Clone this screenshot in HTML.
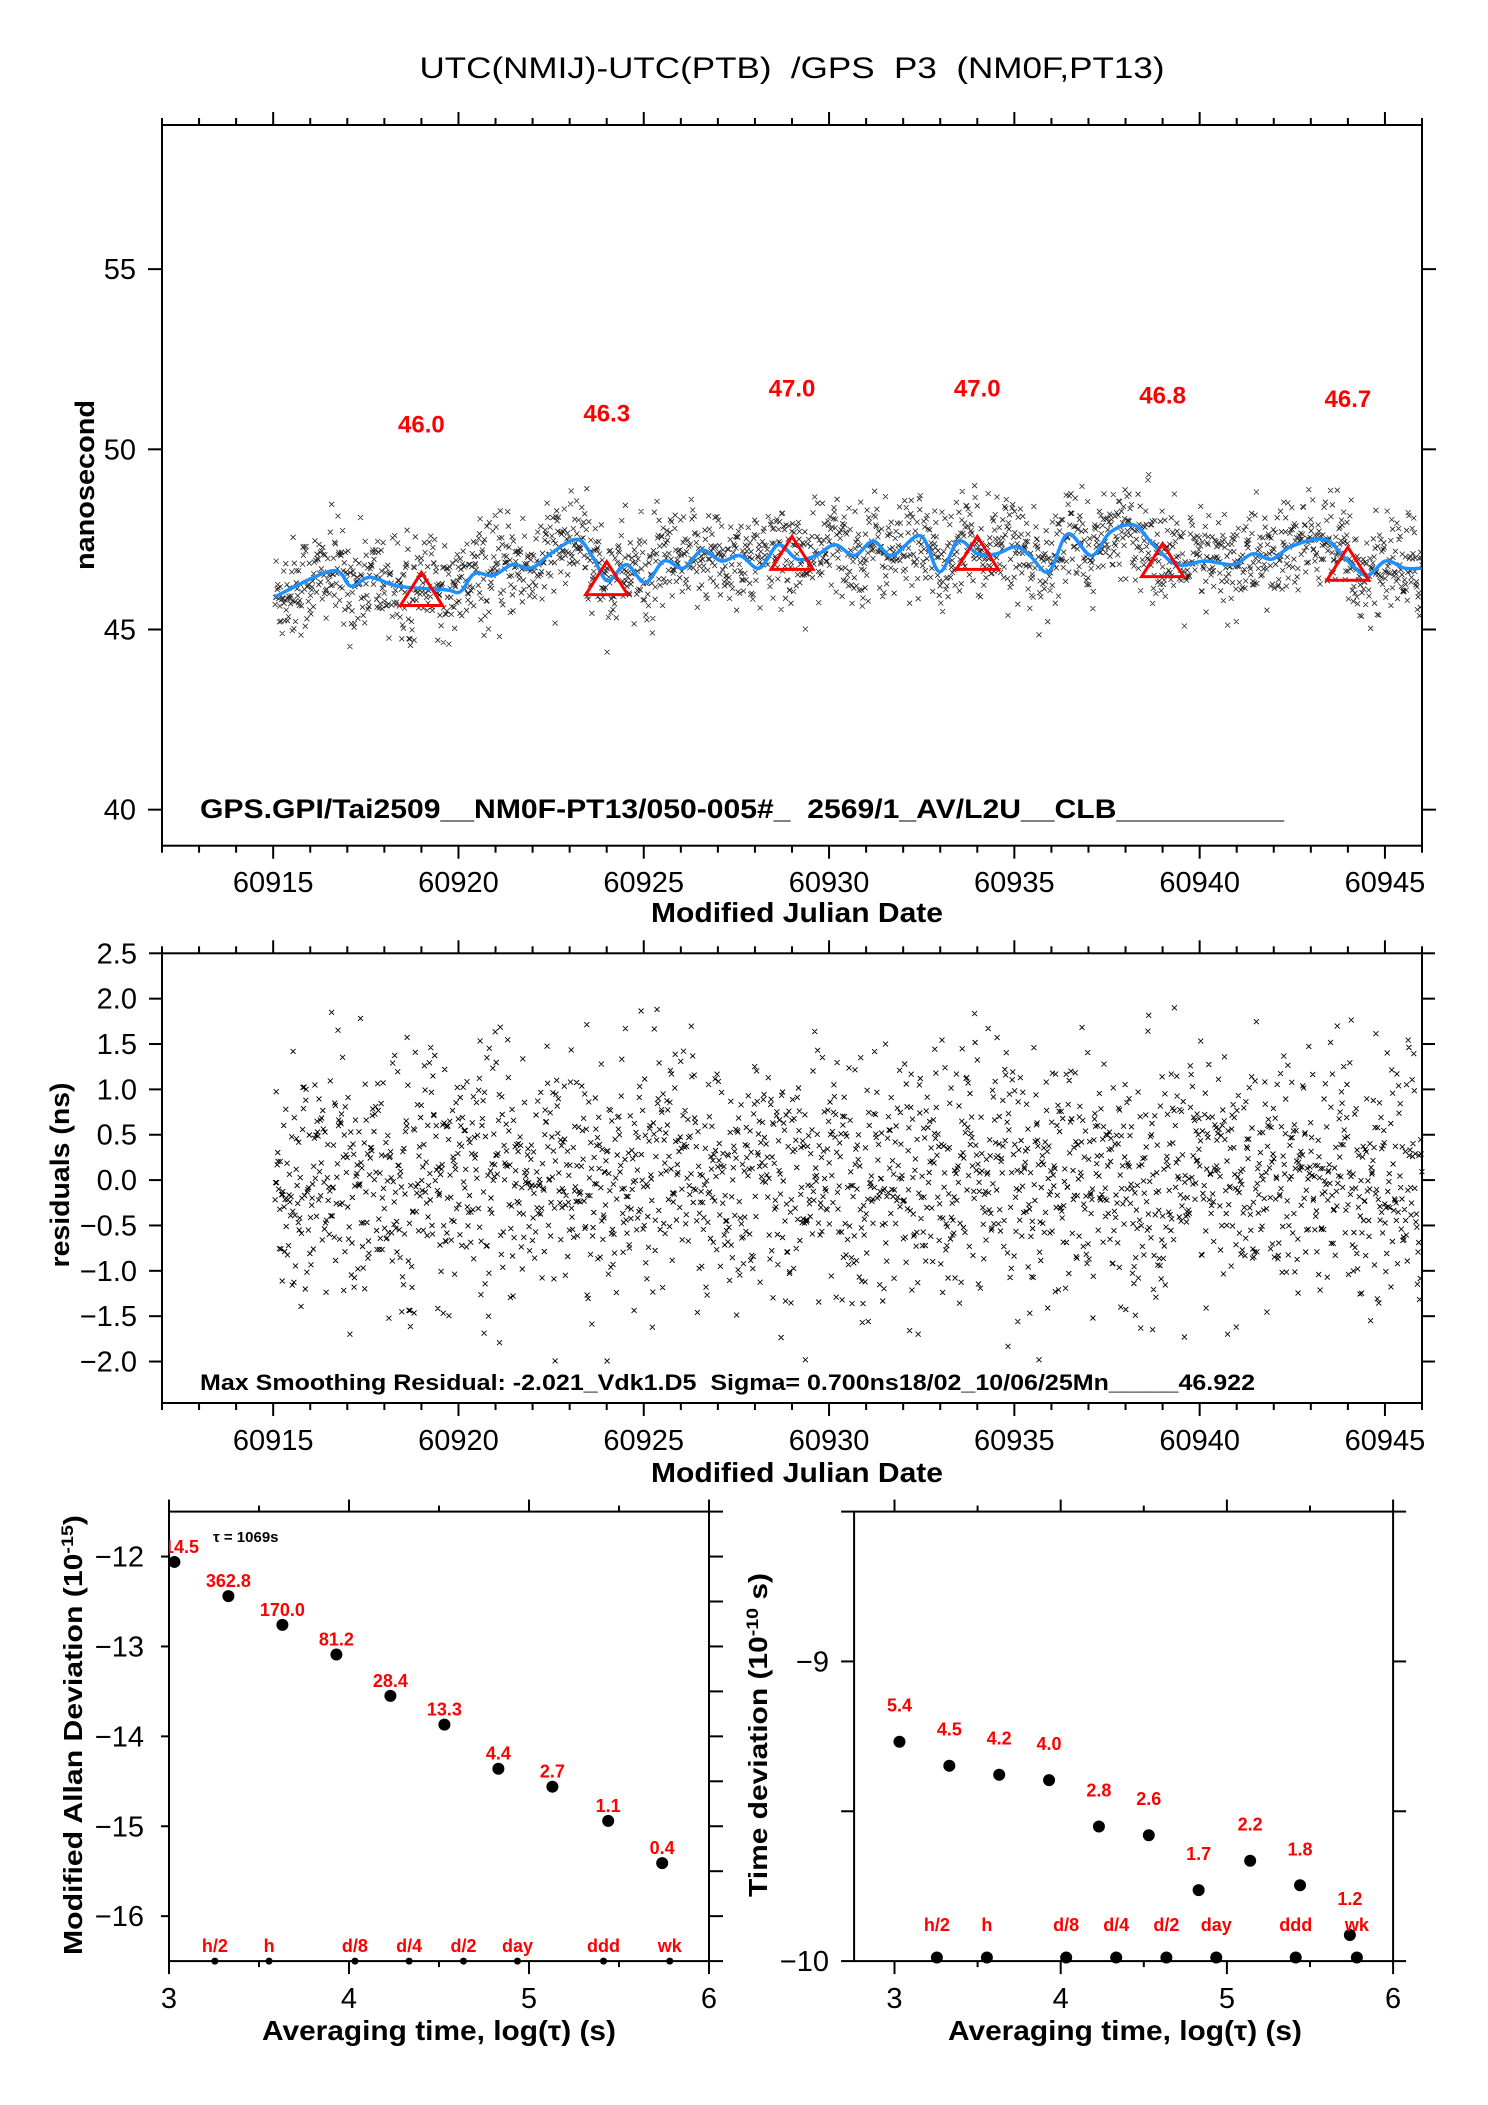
<!DOCTYPE html>
<html><head><meta charset="utf-8"><title>UTC(NMIJ)-UTC(PTB) GPS P3</title>
<style>html,body{margin:0;padding:0;background:#fff}svg{display:block;font-family:"Liberation Sans",Arial,sans-serif}svg text{white-space:pre}</style>
</head><body>
<svg id="fig" xmlns="http://www.w3.org/2000/svg" width="1488" height="2105" viewBox="0 0 1488 2105">
<rect x="0" y="0" width="1488" height="2105" fill="#fff"/>
<defs>
<clipPath id="c3"><rect x="169" y="1511.6" width="540" height="449.5"/></clipPath>
<clipPath id="c1"><rect x="162" y="125" width="1260" height="720.7"/></clipPath>
</defs>
</svg>
<script>
// ---------- data ----------
const curveMJD=[60915.05,60916.59,60917.10,60917.61,60918.38,60919.66,60920.05,60920.43,60920.94,60921.46,60921.97,60922.48,60923.20,60923.63,60924.02,60924.53,60925.04,60925.55,60926.07,60926.58,60927.09,60927.60,60928.12,60928.63,60929.14,60929.65,60930.16,60930.68,60931.19,60931.70,60932.47,60932.98,60933.49,60934.01,60934.52,60935.03,60935.42,60935.93,60936.44,60937.08,60937.59,60938.23,60938.75,60939.39,60940.15,60940.92,60941.43,60941.95,60942.46,60943.36,60944.00,60944.51,60945.02,60945.53,60945.99];
const curveNs=[45.91,46.63,46.2,46.45,46.2,46.1,46.05,46.55,46.5,46.8,46.7,47.1,47.5,47.0,46.35,46.8,46.3,46.9,46.7,47.2,46.9,47.05,46.7,47.35,46.95,47.05,47.35,47.05,47.45,47.05,47.6,46.6,47.45,47.1,47.1,47.3,47.05,46.6,47.65,47.05,47.7,47.9,47.35,46.8,46.9,46.8,47.1,46.95,47.3,47.5,46.9,46.5,46.9,46.7,46.7];
const triMJD=[60919,60924,60929,60934,60939,60944];
const triVal=[46.0,46.3,47.0,47.0,46.8,46.7];
const adevX=[3.03,3.33,3.63,3.93,4.23,4.53,4.83,5.13,5.44,5.74];
const adevY=[-12.06,-12.44,-12.76,-13.09,-13.55,-13.87,-14.36,-14.56,-14.94,-15.41];
const adevLbl=["14.5","362.8","170.0","81.2","28.4","13.3","4.4","2.7","1.1","0.4"];
const tdevX=[3.03,3.33,3.63,3.93,4.23,4.53,4.83,5.14,5.44,5.74];
const tdevY=[-9.268,-9.348,-9.378,-9.396,-9.551,-9.580,-9.763,-9.665,-9.747,-9.913];
const tdevLbl=["5.4","4.5","4.2","4.0","2.8","2.6","1.7","2.2","1.8","1.2"];
const markX=[3.255,3.556,4.033,4.334,4.636,4.936,5.414,5.782];
const markLbl=["h/2","h","d/8","d/4","d/2","day","ddd","wk"];
const mjdTicks=[60915,60920,60925,60930,60935,60940,60945];
const nsTicks=[40,45,50,55];
const resTicks=[2.5,2.0,1.5,1.0,0.5,0.0,-0.5,-1.0,-1.5,-2.0];
const logTicks=[3,4,5,6];
const adevTicks=[-12,-13,-14,-15,-16];
const tdevTicks=[-9,-10];

// ---------- helpers ----------
const NS="http://www.w3.org/2000/svg";
const svg=document.getElementById('fig');
function mk(tag,attrs,name,parent){
  const el=document.createElementNS(NS,tag);
  for(const k in attrs) el.setAttribute(k,attrs[k]);
  
  
  (parent||svg).appendChild(el);
  return el;
}
function line(x1,y1,x2,y2,name,w){return mk('line',{x1,y1,x2,y2,stroke:'#000','stroke-width':w||2},name);}
function txt(x,y,s,name,o){
  o=o||{};
  const a={x,y,'font-size':o.size||29,'text-anchor':o.anchor||'middle',fill:o.fill||'#000'};
  if(o.bold) a['font-weight']='bold';
  if(o.len){a.textLength=o.len;a.lengthAdjust='spacingAndGlyphs';}
  if(o.rot) a.transform='rotate(-90 '+x+' '+y+')';
  if(o.clip) a['clip-path']=o.clip;
  const t=mk('text',a,name);t.textContent=s;return t;
}
function scale(d0,d1,r0,r1){return v=>r0+(v-d0)/(d1-d0)*(r1-r0);}

// ---------- title ----------
txt(792,78,"UTC(NMIJ)-UTC(PTB)  /GPS  P3  (NM0F,PT13)","chart-title",{size:30,len:745});

// ---------- panel 1 ----------
const P1={x0:162,x1:1422,y0:125,y1:845.7};
const x1s=scale(60912,60946,P1.x0,P1.x1), y1s=scale(39,59,P1.y1,P1.y0);
mk('rect',{x:P1.x0,y:P1.y0,width:P1.x1-P1.x0,height:P1.y1-P1.y0,fill:'none',stroke:'#000','stroke-width':2},'top-plot-frame');
for(let d=60912;d<=60946;d++){
  const X=x1s(d), maj=(d%5===0);
  line(X,P1.y0,X,P1.y0-(maj?13:7),'top-x-tick');
  line(X,P1.y1,X,P1.y1+(maj?13:7),'bottom-x-tick');
}
mjdTicks.forEach(v=>txt(x1s(v),892,String(v),'x-tick-label'));
nsTicks.forEach(v=>{const Y=y1s(v);line(P1.x0-14,Y,P1.x0,Y,'y-tick');line(P1.x1,Y,P1.x1+14,Y,'y-tick-right');txt(136,Y+10,String(v),'y-tick-label',{anchor:'end'});});
txt(797,922,"Modified Julian Date","x-axis-title",{size:28,bold:true,len:292});
txt(94,485,"nanosecond","y-axis-title",{size:27,bold:true,rot:true,len:170});

// residual generation (texture of the scatter field)
let seed=12345;
function rnd(){seed=(seed*1103515245+12345)%2147483648;return seed/2147483648;}
function gauss(){let u=rnd()||1e-9,v=rnd();return Math.sqrt(-2*Math.log(u))*Math.cos(2*Math.PI*v);}
const obsMJD=[],obsRes=[];
for(let t=60915.05;t<60946;t+=0.0145){
  let r=gauss()*0.7; while(Math.abs(r)>2.02) r=gauss()*0.7;
  obsMJD.push(t+(rnd()-0.5)*0.01); obsRes.push(r);
}
function curveAt(t){
  if(t<=curveMJD[0]) return curveNs[0];
  for(let i=1;i<curveMJD.length;i++) if(t<=curveMJD[i]){const f=(t-curveMJD[i-1])/(curveMJD[i]-curveMJD[i-1]);return curveNs[i-1]+f*(curveNs[i]-curveNs[i-1]);}
  return curveNs[curveNs.length-1];
}
let p1='';
for(let i=0;i<obsMJD.length;i++){
  const X=x1s(obsMJD[i]),Y=y1s(curveAt(obsMJD[i])+obsRes[i]);
  p1+='M'+(X-2.5).toFixed(1)+' '+(Y-2.5).toFixed(1)+'l5 5M'+(X-2.5).toFixed(1)+' '+(Y+2.5).toFixed(1)+'l5 -5';
}
mk('path',{d:p1,stroke:'#222','stroke-width':0.8,fill:'none','clip-path':'url(#c1)'},'measurement-points');
// smooth curve
let cp='M'+x1s(curveMJD[0]).toFixed(1)+' '+y1s(curveNs[0]).toFixed(1);
for(let i=0;i<curveMJD.length-1;i++){
  const p0=[x1s(curveMJD[Math.max(0,i-1)]),y1s(curveNs[Math.max(0,i-1)])];
  const pa=[x1s(curveMJD[i]),y1s(curveNs[i])],pb=[x1s(curveMJD[i+1]),y1s(curveNs[i+1])];
  const p3=[x1s(curveMJD[Math.min(curveMJD.length-1,i+2)]),y1s(curveNs[Math.min(curveMJD.length-1,i+2)])];
  const c1=[pa[0]+(pb[0]-p0[0])/6,pa[1]+(pb[1]-p0[1])/6],c2=[pb[0]-(p3[0]-pa[0])/6,pb[1]-(p3[1]-pa[1])/6];
  cp+='C'+c1.map(v=>v.toFixed(1)).join(' ')+' '+c2.map(v=>v.toFixed(1)).join(' ')+' '+pb.map(v=>v.toFixed(1)).join(' ');
}
mk('path',{d:cp,stroke:'#1e90ff','stroke-width':3.5,fill:'none'},'smoothed-curve');
triMJD.forEach((m,i)=>{
  const X=x1s(m),Y=y1s(triVal[i]);
  mk('polygon',{points:(X-21)+','+(Y+12)+' '+(X+21)+','+(Y+12)+' '+X+','+(Y-21),fill:'none',stroke:'#f00','stroke-width':3},'mean-triangle');
  txt(X,Y-170+9,triVal[i].toFixed(1),'mean-label',{size:24,bold:true,fill:'#f00'});
});
txt(200,818,"GPS.GPI/Tai2509__NM0F-PT13/050-005#_  2569/1_AV/L2U__CLB__________","file-info-text",{size:27,bold:true,anchor:'start',len:1084});

// ---------- panel 2 ----------
const P2={x0:162,x1:1422,y0:953.3,y1:1403};
const x2s=scale(60912,60946,P2.x0,P2.x1), y2s=scale(-2.457,2.5,P2.y1,P2.y0);
mk('rect',{x:P2.x0,y:P2.y0,width:P2.x1-P2.x0,height:P2.y1-P2.y0,fill:'none',stroke:'#000','stroke-width':2},'residual-plot-frame');
for(let d=60912;d<=60946;d++){
  const X=x2s(d), maj=(d%5===0);
  line(X,P2.y0,X,P2.y0-(maj?13:7),'top-x-tick');
  line(X,P2.y1,X,P2.y1+(maj?13:7),'bottom-x-tick');
}
mjdTicks.forEach(v=>txt(x2s(v),1450,String(v),'x-tick-label'));
resTicks.forEach(v=>{const Y=y2s(v);line(P2.x0-13,Y,P2.x0,Y,'y-tick');line(P2.x1,Y,P2.x1+13,Y,'y-tick-right');txt(137,Y+10,(v<0?'\u2212':'')+Math.abs(v).toFixed(1),'y-tick-label',{anchor:'end'});});
txt(797,1482,"Modified Julian Date","x-axis-title",{size:28,bold:true,len:292});
txt(69,1175,"residuals (ns)","y-axis-title",{size:27,bold:true,rot:true,len:185});
let p2='';
for(let i=0;i<obsMJD.length;i++){
  const X=x2s(obsMJD[i]),Y=y2s(obsRes[i]);
  p2+='M'+(X-2.5).toFixed(1)+' '+(Y-2.5).toFixed(1)+'l5 5M'+(X-2.5).toFixed(1)+' '+(Y+2.5).toFixed(1)+'l5 -5';
}
mk('path',{d:p2,stroke:'#000','stroke-width':0.9,fill:'none'},'residual-points');
txt(200,1390,"Max Smoothing Residual: -2.021_Vdk1.D5  Sigma= 0.700ns18/02_10/06/25Mn_____46.922","residual-info-text",{size:22,bold:true,anchor:'start',len:1055});

// ---------- panel 3: MDEV ----------
const P3={x0:169,x1:709,y0:1511.6,y1:1961.1};
const x3s=scale(3,6,P3.x0,P3.x1), y3s=scale(-16.5,-11.5,P3.y1,P3.y0);
mk('rect',{x:P3.x0,y:P3.y0,width:P3.x1-P3.x0,height:P3.y1-P3.y0,fill:'none',stroke:'#000','stroke-width':2},'mdev-plot-frame');
for(let v=3;v<=6;v+=0.5){const X=x3s(v),maj=(v%1===0);line(X,P3.y0,X,P3.y0-(maj?12:6),'top-x-tick');line(X,P3.y1,X,P3.y1+(maj?13:6),'bottom-x-tick');}
for(let v=-16.5;v<=-11.5;v+=0.5){const Y=y3s(v);line(P3.x1,Y,P3.x1+14,Y,'y-tick-right');}
adevTicks.forEach(v=>{const Y=y3s(v);line(P3.x0-8,Y,P3.x0,Y,'y-tick');txt(144,Y+10,'\u2212'+Math.abs(v),'y-tick-label',{anchor:'end'});});
logTicks.forEach(v=>txt(x3s(v),2008,String(v),'x-tick-label'));
txt(439,2040,"Averaging time, log(\u03c4) (s)","x-axis-title",{size:28,bold:true,len:354});
const ya=txt(82,1735,"","y-axis-title",{size:26,bold:true,rot:true,len:440});
{const t1=document.createElementNS(NS,'tspan');t1.textContent='Modified Allan Deviation (10';ya.appendChild(t1);
 const t2=document.createElementNS(NS,'tspan');t2.setAttribute('baseline-shift','super');t2.setAttribute('font-size','17');t2.textContent='-15';ya.appendChild(t2);
 const t3=document.createElementNS(NS,'tspan');t3.textContent=')';ya.appendChild(t3);}
txt(213,1542,"\u03c4 = 1069s","tau-annotation",{size:15,bold:true,anchor:'start'});
adevX.forEach((v,i)=>{
  mk('circle',{cx:x3s(v),cy:y3s(adevY[i]),r:6,fill:'#000'},'mdev-point');
  if(i===0) txt(199,y3s(adevY[i])-9,adevLbl[i],'mdev-label',{size:18,bold:true,fill:'#f00',anchor:'end',clip:'url(#c3)'});
  else txt(x3s(v),y3s(adevY[i])-9,adevLbl[i],'mdev-label',{size:18,bold:true,fill:'#f00'});
});
markX.forEach((v,i)=>{
  mk('circle',{cx:x3s(v),cy:P3.y1,r:3.5,fill:'#000'},'interval-marker');
  txt(x3s(v),1952,markLbl[i],'interval-label',{size:18,bold:true,fill:'#f00'});
});

// ---------- panel 4: TDEV ----------
const P4={x0:854.1,x1:1393.1,y0:1511.6,y1:1961.1};
const x4s=scale(2.757,6,P4.x0,P4.x1), y4s=scale(-10,-8.5,P4.y1,P4.y0);
mk('rect',{x:P4.x0,y:P4.y0,width:P4.x1-P4.x0,height:P4.y1-P4.y0,fill:'none',stroke:'#000','stroke-width':2},'tdev-plot-frame');
for(let v=3;v<=6;v+=0.5){const X=x4s(v),maj=(v%1===0);line(X,P4.y0,X,P4.y0-(maj?12:6),'top-x-tick');line(X,P4.y1,X,P4.y1+(maj?13:6),'bottom-x-tick');}
[-10,-9.5,-9,-8.5].forEach(v=>{const Y=y4s(v);line(P4.x0-13,Y,P4.x0,Y,'y-tick');line(P4.x1,Y,P4.x1+13,Y,'y-tick-right');});
tdevTicks.forEach(v=>txt(829,y4s(v)+10,'\u2212'+Math.abs(v),'y-tick-label',{anchor:'end'}));
logTicks.forEach(v=>txt(x4s(v),2008,String(v),'x-tick-label'));
txt(1125,2040,"Averaging time, log(\u03c4) (s)","x-axis-title",{size:28,bold:true,len:354});
const yb=txt(767,1735,"","y-axis-title",{size:26,bold:true,rot:true,len:324});
{const t1=document.createElementNS(NS,'tspan');t1.textContent='Time deviation (10';yb.appendChild(t1);
 const t2=document.createElementNS(NS,'tspan');t2.setAttribute('baseline-shift','super');t2.setAttribute('font-size','17');t2.textContent='-10';yb.appendChild(t2);
 const t3=document.createElementNS(NS,'tspan');t3.textContent=' s)';yb.appendChild(t3);}
tdevX.forEach((v,i)=>{
  mk('circle',{cx:x4s(v),cy:y4s(tdevY[i]),r:6,fill:'#000'},'tdev-point');
  txt(x4s(v),y4s(tdevY[i])-30,tdevLbl[i],'tdev-label',{size:18,bold:true,fill:'#f00'});
});
markX.forEach((v,i)=>{
  mk('circle',{cx:x4s(v),cy:1957.5,r:6,fill:'#000'},'interval-marker');
  txt(x4s(v),1931,markLbl[i],'interval-label',{size:18,bold:true,fill:'#f00'});
});
</script>
</body></html>
